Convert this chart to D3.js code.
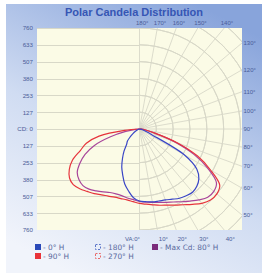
<!DOCTYPE html>
<html><head><meta charset="utf-8">
<script src="https://cdn.jsdelivr.net/npm/d3@7"></script>
<style>html,body{margin:0;padding:0;background:#fff}svg{display:block}</style>
</head><body>
<svg id="c" width="262" height="273"></svg>
<script>
// vertical angles (degrees from nadir)
const angles = [0,5,10,15,20,25,30,35,40,45,50,55,60,65,70,75,80,85,90];
// candela values, right side and left side of each plane
const blueRight   = [542,549,557,561,568,583,602,613,621,610,583,527,391,105,45,23,15,8,0];
const blueLeft    = [542,519,474,429,369,316,256,203,151,128,90,60,38,23,15,8,4,0,0];
const redRight    = [560,568,579,594,610,632,658,692,730,756,760,737,617,482,301,120,53,15,0];
const redLeft     = [560,549,542,542,546,557,572,594,613,636,651,643,610,557,474,414,309,113,0];
const purpleRight = [545,553,561,572,587,606,632,662,696,726,730,707,594,452,278,113,45,15,0];
const purpleLeft  = [545,534,527,519,519,527,546,568,591,602,594,572,519,452,361,226,105,30,0];

const yTickValues = [760,633,507,380,253,127,0,-127,-253,-380,-507,-633,-760];
const yTickLabels = ["760","633","507","380","253","127","CD: 0","127","253","380","507","633","760"];
const topAngles = [180,170,160,150,140];
const rightAngles = [130,120,110,100,90,80,70,60,50];
const bottomAngles = [0,10,20,30,40];
const ringSteps = [1,2,3,4,5,6,7,8,9];
const radialAngles = [0,10,20,30,40,50,60,70,80,90,100,110,120,130,140,150,160,170,180];

const legendLabels = ["- 0° H","- 90° H","- 180° H","- 270° H","- Max Cd: 80° H"];
const legendColors = ["#2a49b8","#e8343a","#5a74c8","#e86a6a","#7a2a7a"];
const legendDashed = [false,false,true,true,false];

const svg = d3.select("#c");
const W = 262, H = 273;
const plot = {l:37, r:242, t:28, b:230};
const cx = (plot.l+plot.r)/2, cy = (plot.t+plot.b)/2;
const R = (plot.b-plot.t)/2;
const maxCd = 760;

const defs = svg.append("defs");
const g1 = defs.append("linearGradient").attr("id","bg").attr("x1","0.25").attr("y1","1").attr("x2","0.75").attr("y2","0");
g1.append("stop").attr("offset","0").attr("stop-color","#f1f4fb");
g1.append("stop").attr("offset","0.45").attr("stop-color","#d0dcf2");
g1.append("stop").attr("offset","1").attr("stop-color","#88a4db");
defs.append("clipPath").attr("id","pc").append("rect")
  .attr("x",plot.l).attr("y",plot.t).attr("width",plot.r-plot.l).attr("height",plot.b-plot.t);

svg.append("rect").attr("x",6).attr("y",4).attr("width",W-6).attr("height",H-4).attr("fill","url(#bg)");
svg.append("rect").attr("x",plot.l).attr("y",plot.t).attr("width",plot.r-plot.l).attr("height",plot.b-plot.t)
  .attr("fill","#fbfbe6");

const yScale = d3.scaleLinear().domain([-maxCd,maxCd]).range([plot.b,plot.t]);
const rScale = d3.scaleLinear().domain([0,maxCd]).range([0,R]);
const gridColor = "#d8d8c8";

const grid = svg.append("g").attr("clip-path","url(#pc)");
grid.selectAll("line.h").data(yTickValues).join("line")
  .attr("x1",plot.l).attr("x2",cx)
  .attr("y1",d=>Math.round(yScale(d))+0.5).attr("y2",d=>Math.round(yScale(d))+0.5)
  .attr("stroke",gridColor).attr("stroke-width",1);
const arc = d3.arc().startAngle(0).endAngle(Math.PI);
grid.selectAll("path.ring").data(ringSteps).join("path")
  .attr("transform",`translate(${cx},${cy})`)
  .attr("d",k=>arc({innerRadius:rScale(k*maxCd/6),outerRadius:rScale(k*maxCd/6)}))
  .attr("fill","none").attr("stroke",gridColor).attr("stroke-width",1);
grid.selectAll("line.rad").data(radialAngles).join("line")
  .attr("x1",cx).attr("y1",cy)
  .attr("x2",a=>cx+300*Math.sin(a*Math.PI/180))
  .attr("y2",a=>cy+300*Math.cos(a*Math.PI/180))
  .attr("stroke",gridColor).attr("stroke-width",0.9);

const yAxis = d3.axisLeft(yScale).tickValues(yTickValues)
  .tickFormat((d,i)=>yTickLabels[i]).tickSize(0).tickPadding(0);
const ya = svg.append("g").attr("transform","translate(33,0)").call(yAxis);
ya.select(".domain").remove();
ya.selectAll("text").attr("font-family","Liberation Sans, Arial, sans-serif")
  .attr("font-size",6.2).attr("fill","#4a5d98");

function edgePoint(a){
  const s = Math.sin(a*Math.PI/180), c = Math.cos(a*Math.PI/180);
  let t = Infinity;
  if (s>1e-6) t = Math.min(t,(plot.r-cx)/s);
  if (c>1e-6) t = Math.min(t,(plot.b-cy)/c);
  if (c<-1e-6) t = Math.min(t,(plot.t-cy)/c);
  return [cx+t*s, cy+t*c];
}
const lblFont = {"font-family":"Liberation Sans, Arial, sans-serif","font-size":6,"fill":"#4a5d98"};
function styl(sel){ for(const k in lblFont) sel.attr(k,lblFont[k]); return sel; }

styl(svg.selectAll("text.top").data(topAngles).join("text")
  .attr("x",a=>edgePoint(a)[0]-3.5).attr("y",plot.t-3).text(a=>a+"°"));
styl(svg.selectAll("text.right").data(rightAngles).join("text")
  .attr("x",plot.r+1.5).attr("y",a=>edgePoint(a)[1]+2).text(a=>a+"°"));
styl(svg.selectAll("text.bot").data(bottomAngles).join("text")
  .attr("x",a=>a===0?cx+0.5:edgePoint(a)[0]+1.5).attr("y",plot.b+10.5)
  .attr("text-anchor",a=>a===0?"end":"start")
  .text(a=>a===0?"VA:0°":a+"°"));

function curvePoints(left,right){
  const pts = [];
  for (let i=angles.length-1;i>=1;i--) pts.push([Math.PI+angles[i]*Math.PI/180, rScale(left[i])]);
  for (let i=0;i<angles.length;i++) pts.push([Math.PI-angles[i]*Math.PI/180, rScale(right[i])]);
  return pts;
}
const radial = d3.lineRadial().angle(d=>d[0]).radius(d=>d[1]).curve(d3.curveCatmullRom.alpha(0.5));
const curves = svg.append("g").attr("transform",`translate(${cx},${cy})`);
[[purpleLeft,purpleRight,"#a8459a"],[redLeft,redRight,"#e6343c"],[blueLeft,blueRight,"#3a46c6"]].forEach(([l,r,c])=>{
  curves.append("path").attr("d",radial(curvePoints(l,r)))
    .attr("fill","none").attr("stroke",c).attr("stroke-width",1.2).attr("stroke-linejoin","round");
});

svg.append("text").attr("x",134).attr("y",16).attr("text-anchor","middle")
  .attr("font-family","Liberation Sans, Arial, sans-serif").attr("font-weight","bold")
  .attr("font-size",11).attr("fill","#3656b4").text("Polar Candela Distribution");

const legPos = [[35,244],[35,253],[95,244],[95,253],[152,244]];
legendLabels.forEach((lab,i)=>{
  const [x,y] = legPos[i];
  if (legendDashed[i]) {
    svg.append("rect").attr("x",x+0.5).attr("y",y+0.5).attr("width",5).attr("height",5)
      .attr("fill","none").attr("stroke",legendColors[i]).attr("stroke-width",1).attr("stroke-dasharray","2,1.5");
  } else {
    svg.append("rect").attr("x",x).attr("y",y).attr("width",6).attr("height",6).attr("fill",legendColors[i]);
  }
  svg.append("text").attr("x",x+8).attr("y",y+5.6)
    .attr("font-family","DejaVu Sans, sans-serif").attr("font-size",7.4).attr("fill","#5a6a9e").text(lab);
});
</script>
</body></html>
